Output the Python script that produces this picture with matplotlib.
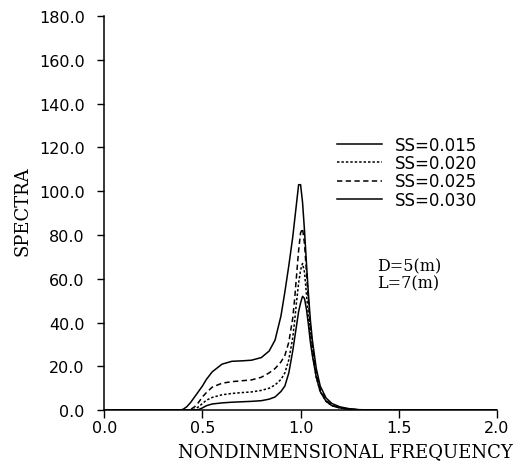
import matplotlib
matplotlib.use("Agg")
import matplotlib.pyplot as plt

# Nondimensional frequency (shared by all curves)
freq = [0.0, 0.38, 0.40, 0.42, 0.44, 0.46, 0.48, 0.50, 0.52, 0.55,
        0.60, 0.65, 0.70, 0.75, 0.80, 0.84, 0.87, 0.90, 0.92, 0.94,
        0.96, 0.97, 0.98, 0.99, 1.00, 1.01, 1.02, 1.03, 1.04, 1.05,
        1.06, 1.08, 1.10, 1.13, 1.16, 1.20, 1.25, 1.30, 1.40, 2.0]

ss_015 = [0, 0, 0.3, 1.5, 3.5, 6, 8.5, 11, 14, 17.5,
          21, 22.3, 22.5, 22.8, 24, 27, 32, 43, 54, 66,
          79, 87, 95, 103, 103, 95, 82, 67, 53, 41,
          32, 19, 11, 5.5, 3, 1.5, 0.6, 0.2, 0, 0]
ss_025 = [0, 0, 0, 0, 0.3, 1.5, 3.5, 6, 8, 10.5,
          12.3, 13, 13.4, 13.8, 15, 17, 19, 22, 25, 31,
          42, 51, 62, 73, 81, 83, 76, 63, 50, 38,
          29, 17, 9.5, 4.5, 2.2, 1, 0.4, 0.1, 0, 0]
ss_020 = [0, 0, 0, 0, 0, 0.3, 1.5, 3, 4.5, 5.8,
          7, 7.6, 8, 8.3, 9, 10, 11.5, 14, 17, 23,
          33, 41, 50, 58, 64, 67, 63, 53, 43, 34,
          26, 15, 8.5, 4, 2, 1, 0.4, 0.1, 0, 0]
ss_030 = [0, 0, 0, 0, 0, 0, 0.2, 1, 2, 2.8,
          3.3, 3.6, 3.8, 4, 4.3, 5, 6, 8.5, 11, 17,
          27, 33, 39, 45, 49, 52, 51, 46, 39, 31,
          25, 15, 8.5, 4, 2, 1, 0.4, 0.1, 0, 0]

plt.rcParams["font.family"] = "DejaVu Sans"

fig = plt.figure(figsize=(5.32, 4.64), dpi=100)
ax = fig.add_axes([0.196, 0.114, 0.738, 0.849])

lw = 1.1
ax.plot(freq, ss_015, color="black", lw=lw, ls="-", label="SS=0.015")
ax.plot(freq, ss_020, color="black", lw=lw, ls=(0, (1.6, 1.3)), label="SS=0.020")
ax.plot(freq, ss_025, color="black", lw=lw, ls=(0, (3.5, 2.2)), label="SS=0.025")
ax.plot(freq, ss_030, color="black", lw=lw, ls="-", label="SS=0.030")

ax.set_xlim(0, 2.0)
ax.set_ylim(0, 180)
ax.set_xticks([0.0, 0.5, 1.0, 1.5, 2.0])
ax.set_yticks(range(0, 181, 20))
ax.set_xticklabels([f"{v:.1f}" for v in [0.0, 0.5, 1.0, 1.5, 2.0]])
ax.set_yticklabels([f"{v:.1f}" for v in range(0, 181, 20)])
ax.tick_params(direction="out", length=6, width=1, labelsize=11.5, pad=1)
ax.tick_params(axis="y", length=5, pad=9)
ax.spines["top"].set_visible(False)
ax.spines["right"].set_visible(False)
for s in ["left", "bottom"]:
    ax.spines[s].set_linewidth(1.1)

fig.text(0.042, 0.545, "SPECTRA", rotation=90, ha="center", va="center",
         family="DejaVu Serif", fontsize=13)
fig.text(0.65, 0.025, "NONDINMENSIONAL FREQUENCY", ha="center", va="center",
         family="DejaVu Serif", fontsize=13)

ax.legend(loc="upper left", bbox_to_anchor=(0.605, 0.7375), bbox_transform=fig.transFigure,
          frameon=False, handlelength=2.7, handletextpad=0.8, labelspacing=0.02,
          fontsize=12)

ax.text(1.39, 62, "D=5(m)\nL=7(m)", family="DejaVu Serif", fontsize=11.5,
        ha="left", va="center", linespacing=0.95)

fig.savefig("out.png", dpi=100)
